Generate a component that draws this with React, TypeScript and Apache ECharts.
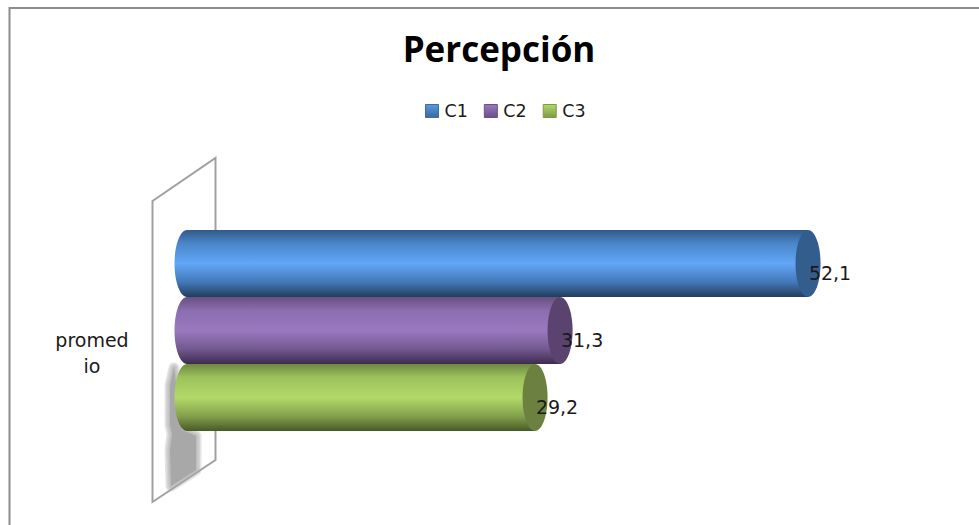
import React, { useEffect, useRef } from "react";
import * as echarts from "echarts";

const categories = ["promedio"];
const seriesNames = ["C1", "C2", "C3"];
const seriesValues = [52.1, 31.3, 29.2];
const titleText = "Percepción";

const palettes = [
  { stops: ["#30598a", "#4a86c8", "#62a6f8", "#4278b6", "#223c5c"], end: "#335d8d", legend: ["#5a98de", "#3a6aa0"], edge: "#3f6c9f" },
  { stops: ["#68507f", "#8b6db0", "#9a79c0", "#72588f", "#3c2c50"], end: "#5b436f", legend: ["#9a79c0", "#6a5088"], edge: "#6a5088" },
  { stops: ["#6e883f", "#9dc25c", "#b2d968", "#83a04c", "#475a26"], end: "#6c8040", legend: ["#b2d968", "#7d9a48"], edge: "#7d9a48" },
];

const shadowOutline = [[174, 368], [170, 385], [170, 425], [172, 434], [170, 450], [171, 486], [196, 470], [196, 436], [182, 430]];
const softEdgeWidths = [11, 8, 5, 2];
const barHeight = 67;

const gradient = (stops: string[]) => ({
  type: "linear", x: 0, y: 0, x2: 0, y2: 1,
  colorStops: stops.map((color, i) => ({
    offset: stops.length === 5 ? [0, 0.2, 0.5, 0.78, 1][i] : i / (stops.length - 1),
    color,
  })),
});

const cylinder = (index: number) => (_params: any, api: any) => {
  const origin = api.coord([0, api.value(1)]);
  const tip = api.coord([api.value(0), api.value(1)]);
  const h = barHeight;
  // Bars stack down from the top of the category band; the band's centre carries the axis label.
  const top = origin[1] - api.size([0, 1])[1] / 2 + index * h;
  const cy = top + h / 2;
  const rx = 12.5;
  const p = palettes[index];
  return {
    type: "group",
    children: [
      { type: "ellipse", shape: { cx: origin[0], cy, rx, ry: h / 2 }, style: { fill: gradient(p.stops) } },
      { type: "rect", shape: { x: origin[0], y: top, width: tip[0] - origin[0], height: h }, style: { fill: gradient(p.stops) } },
      { type: "ellipse", shape: { cx: tip[0], cy, rx, ry: h / 2 }, style: { fill: p.end } },
      {
        type: "text",
        x: tip[0] + 22,
        y: cy + 9,
        style: {
          text: String(api.value(0)).replace(".", ","),
          fill: "#1a1a1a",
          font: "19px 'DejaVu Sans'",
          align: "center",
          verticalAlign: "middle",
        },
      },
    ],
  };
};

export default function App() {
  const ref = useRef<HTMLDivElement>(null);
  useEffect(() => {
    const chart = echarts.init(ref.current!, undefined, { renderer: "svg" });
    chart.setOption({
      animation: false,
      backgroundColor: "#ffffff",
      title: {
        text: titleText,
        left: 494,
        top: 26,
        textAlign: "center",
        textStyle: { fontFamily: "'Open Sans'", fontWeight: "bold", fontSize: 35, color: "#000000" },
      },
      legend: {
        top: 97,
        left: 420,
        itemWidth: 13,
        itemHeight: 13,
        itemGap: 16,
        icon: "rect",
        data: seriesNames.map((name, i) => ({
          name,
          itemStyle: { color: gradient(palettes[i].legend), borderColor: palettes[i].edge, borderWidth: 1 },
        })),
        textStyle: { fontFamily: "'DejaVu Sans'", fontSize: 17.5, color: "#1a1a1a", padding: [-1, 0, 0, 1] },
      },
      grid: { left: 187, top: 230, width: 715.2, height: 245, containLabel: false },
      xAxis: { type: "value", min: 0, max: 60, show: false },
      yAxis: {
        type: "category",
        data: categories,
        axisLine: { show: false },
        axisTick: { show: false },
        axisLabel: {
          margin: 95,
          align: "center",
          width: 76,
          overflow: "breakAll",
          lineHeight: 26,
          fontFamily: "'DejaVu Sans'",
          fontSize: 19,
          color: "#1a1a1a",
        },
      },
      graphic: [
        { type: "polyline", shape: { points: [[9.5, 525], [9.5, 8], [979, 8]] }, style: { stroke: "#8c8c8c", lineWidth: 2, fill: "none" }, z: 0 },
        { type: "polygon", shape: { points: [[152.5, 201], [215.5, 158], [215.5, 460], [152.5, 502]] }, style: { fill: "#ffffff", stroke: "#a0a0a0", lineWidth: 2 }, z: 0 },
        ...softEdgeWidths.map((lineWidth) => ({
          type: "polygon",
          shape: { points: shadowOutline },
          style: { fill: "none", stroke: "#a8a8a8", lineWidth, lineJoin: "round", opacity: 0.3 },
          z: 1,
        })),
        { type: "polygon", shape: { points: shadowOutline }, style: { fill: "#a8a8a8" }, z: 1 },
      ],
      series: seriesNames.map((name, i) => ({
        name,
        type: "custom",
        renderItem: cylinder(i),
        encode: { x: 0, y: 1 },
        itemStyle: { color: palettes[i].legend[1] },
        data: [[seriesValues[i], 0]],
        z: 5,
      })),
    });
    return () => chart.dispose();
  }, []);
  return <div ref={ref} style={{ position: "absolute", left: 0, top: 0, width: 979, height: 525 }} />;
}
